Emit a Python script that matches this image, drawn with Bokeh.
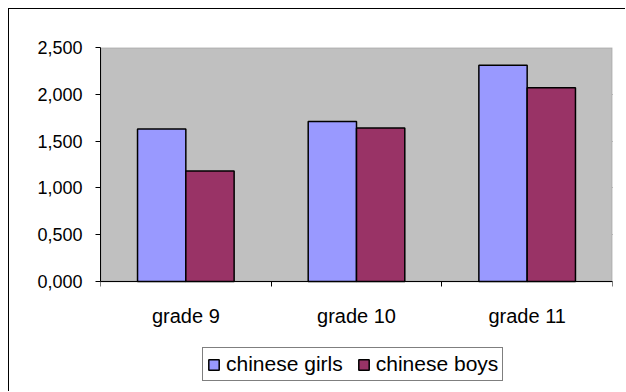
import numpy as np
from bokeh.plotting import figure
from bokeh.models import (Range1d, FixedTicker, CustomJSTickFormatter, Legend, LegendItem,
                          ColumnDataSource, LinearAxis, BoxAnnotation)
from bokeh.core.properties import value
from bokeh.embed import file_html
from bokeh.resources import INLINE

categories = ["grade 9", "grade 10", "grade 11"]
girls = [1.63, 1.71, 2.31]
boys = [1.18, 1.64, 2.07]
series_names = ["chinese girls", "chinese boys"]
y_ticks = [0.0, 0.5, 1.0, 1.5, 2.0, 2.5]

Y_MAX = 2.5
N = len(categories)
centers = np.arange(N) + 0.5
bar_w = 0.283

# layout (canvas pixels)
W, H = 617, 383
TOP, ZERO_Y = 38, 272          # frame top and pixel row of y = 0
ppu = (ZERO_Y - TOP) / Y_MAX
y_start = -(H - ZERO_Y) / ppu  # frame reaches the bottom of the canvas (room for legend)

src = ColumnDataSource(dict(
    xg=centers - bar_w / 2, xb=centers + bar_w / 2, girls=girls, boys=boys))
lab_src = ColumnDataSource(dict(x=centers, y=[0.0] * N, text=categories))

FONT = "Liberation Sans"

p = figure(width=W, height=H, output_backend="svg", toolbar_location=None,
           x_range=Range1d(0, N), y_range=Range1d(y_start, Y_MAX),
           x_axis_location=None,
           min_border_left=91, min_border_top=TOP, min_border_right=14, min_border_bottom=0)
p.styles = {"margin-left": "8px", "margin-top": "8px",
            "border-left": "1px solid black", "border-top": "1px solid black"}

p.background_fill_color = "white"
p.border_fill_color = "white"
p.outline_line_color = None

# grey plot area
p.add_layout(BoxAnnotation(left=0, right=N, bottom=0, top=Y_MAX, fill_color="#C0C0C0",
                           fill_alpha=1, line_color="#808080", line_width=2, level="underlay"))

# grid
p.xgrid.grid_line_color = None
p.ygrid.grid_line_color = "black"
p.ygrid.grid_line_width = 1
p.ygrid.ticker = FixedTicker(ticks=y_ticks)

r1 = p.vbar(x="xg", top="girls", width=bar_w, source=src, fill_color="#9999FF",
            line_color="black", line_width=1.5)
r2 = p.vbar(x="xb", top="boys", width=bar_w, source=src, fill_color="#993366",
            line_color="black", line_width=1.5)

# y axis
p.yaxis.ticker = FixedTicker(ticks=y_ticks)
p.yaxis.bounds = (0, Y_MAX)
p.yaxis.formatter = CustomJSTickFormatter(code="return tick.toFixed(3).replace('.', ',');")
p.yaxis.major_tick_out = 5
p.yaxis.major_tick_in = 0
p.yaxis.minor_tick_line_color = None
p.yaxis.axis_line_color = "black"
p.yaxis.major_label_text_font = FONT
p.yaxis.major_label_text_font_size = "18px"
p.yaxis.major_label_text_color = "black"
p.yaxis.major_label_standoff = 13

# x axis line with category-boundary ticks, drawn at y = 0
bounds_ticks = list(range(N + 1))
xax = LinearAxis(ticker=FixedTicker(ticks=bounds_ticks, minor_ticks=[]),
                 fixed_location=0, major_tick_in=5, major_tick_out=0,
                 major_label_overrides={t: "" for t in bounds_ticks},
                 major_label_text_color=None, major_label_standoff=0,
                 axis_line_color="black", major_tick_line_color="black",
                 minor_tick_line_color=None)
p.add_layout(xax, "above")

# category labels
p.text(x="x", y="y", text="text", source=lab_src, text_align="center", text_baseline="top",
       y_offset=23, text_font=value(FONT), text_font_size="20px", text_color="black")

legend = Legend(items=[LegendItem(label=series_names[0], renderers=[r1]),
                       LegendItem(label=series_names[1], renderers=[r2])],
                orientation="horizontal", location=(102, 11))
legend.border_line_color = "black"
legend.border_line_width = 1
legend.background_fill_color = "white"
legend.background_fill_alpha = 1
legend.label_text_font = FONT
legend.label_text_font_size = "21px"
legend.label_text_color = "black"
legend.label_height = 18
legend.glyph_width = 13
legend.glyph_height = 13
legend.label_standoff = 6
legend.spacing = 14
legend.padding = 4
legend.margin = 0
p.add_layout(legend, "center")

open("out.html", "w").write(file_html(p, INLINE))
